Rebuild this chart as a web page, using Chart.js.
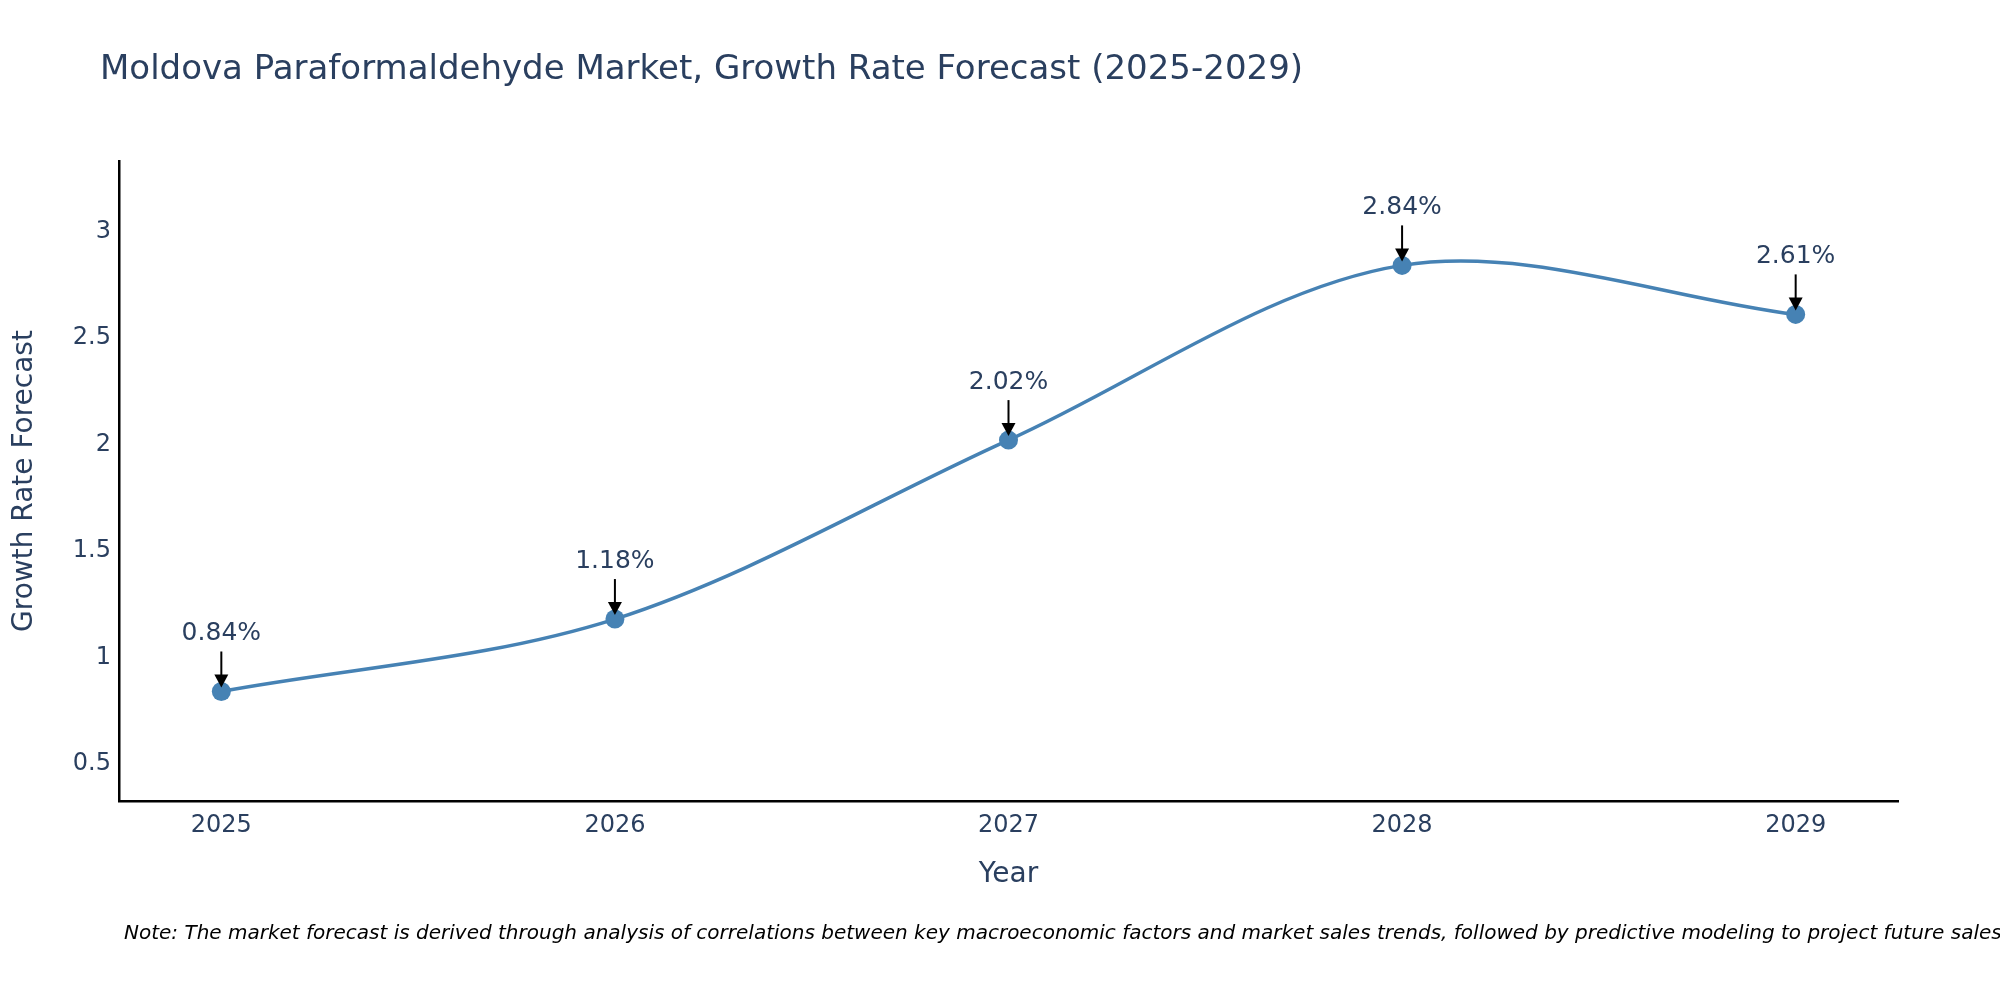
<!DOCTYPE html>
<html>
<head>
<meta charset="utf-8">
<title>Moldova Paraformaldehyde Market</title>
<script src="https://cdn.jsdelivr.net/npm/chart.js@4.4.1/dist/chart.umd.min.js"></script>
<style>
  body { margin: 0; background: #fff; }
  #wrap { width: 2000px; height: 1000px; }
</style>
</head>
<body>
<div id="wrap"><canvas id="growthChart" width="2000" height="1000"></canvas></div>
<script>
// values
const years = [2025, 2026, 2027, 2028, 2029];
const growthRate = [0.84, 1.18, 2.02, 2.84, 2.61];
const yTicks = [0.5, 1, 1.5, 2, 2.5, 3];
const pointLabels = ["0.84%", "1.18%", "2.02%", "2.84%", "2.61%"];

const titleText = "Moldova Paraformaldehyde Market, Growth Rate Forecast (2025-2029)";
const noteText = "Note: The market forecast is derived through analysis of correlations between key macroeconomic factors and market sales trends, followed by predictive modeling to project future sales.";

const FONT = "DejaVu Sans";
const INK = "#2a3f5f";
const LINE = "#4682b4";

// title, note and the arrow annotations
const extras = {
  id: "extras",
  afterDraw(chart) {
    const ctx = chart.ctx;
    ctx.save();
    ctx.fillStyle = INK;
    ctx.font = "34px '" + FONT + "'";
    ctx.textBaseline = "middle";
    ctx.textAlign = "left";
    ctx.fillText(titleText, 100, 70);

    ctx.fillStyle = "#000";
    ctx.font = "italic 20px '" + FONT + "'";
    ctx.fillText(noteText, 124, 934);

    const meta = chart.getDatasetMeta(0);
    meta.data.forEach((pt, i) => {
      const x = pt.x, y = pt.y;
      ctx.strokeStyle = "#000";
      ctx.fillStyle = "#000";
      ctx.lineWidth = 2;
      ctx.beginPath();
      ctx.moveTo(x, y - 40);
      ctx.lineTo(x, y - 16);
      ctx.stroke();
      ctx.beginPath();
      ctx.moveTo(x, y - 4);
      ctx.lineTo(x - 7, y - 17);
      ctx.lineTo(x + 7, y - 17);
      ctx.closePath();
      ctx.fill();

      ctx.fillStyle = INK;
      ctx.font = "25px '" + FONT + "'";
      ctx.textAlign = "center";
      ctx.fillText(pointLabels[i], x, y - 58);
    });
    ctx.restore();
  }
};

new Chart(document.getElementById("growthChart"), {
  type: "line",
  data: {
    datasets: [{
      label: "Growth Rate Forecast",
      data: years.map((yr, i) => ({ x: yr, y: growthRate[i] })),
      borderColor: LINE,
      backgroundColor: LINE,
      borderWidth: 3.5,
      pointRadius: 9.5,
      pointHoverRadius: 9.5,
      pointBorderWidth: 0,
      tension: 0.33,
      fill: false
    }]
  },
  options: {
    responsive: false,
    devicePixelRatio: 1,
    animation: false,
    layout: { padding: { top: 161, right: 102, bottom: 0, left: 0 } },
    plugins: {
      legend: { display: false },
      tooltip: { enabled: false }
    },
    scales: {
      x: {
        type: "linear",
        min: 2024.74,
        max: 2029.26,
        afterBuildTicks: s => { s.ticks = years.map(v => ({ value: v })); },
        afterFit: s => { s.height = 199; },
        grid: { display: false, drawTicks: false },
        border: { color: "#000", width: 2.5 },
        ticks: {
          padding: 10,
          color: INK,
          font: { family: FONT, size: 24 },
          callback: v => String(v)
        },
        title: {
          display: true,
          text: "Year",
          color: INK,
          font: { family: FONT, size: 28 },
          padding: { top: 0, bottom: 108 }
        }
      },
      y: {
        min: 0.326,
        max: 3.33,
        afterBuildTicks: s => { s.ticks = yTicks.map(v => ({ value: v })); },
        afterFit: s => { s.width = 119; },
        grid: { display: false, drawTicks: false },
        border: { color: "#000", width: 2.5 },
        ticks: {
          padding: 8,
          color: INK,
          font: { family: FONT, size: 24 },
          callback: v => String(v)
        },
        title: {
          display: true,
          text: "Growth Rate Forecast",
          color: INK,
          font: { family: FONT, size: 28 },
          padding: { top: 8, bottom: 0 }
        }
      }
    }
  },
  plugins: [extras]
});
</script>
</body>
</html>
